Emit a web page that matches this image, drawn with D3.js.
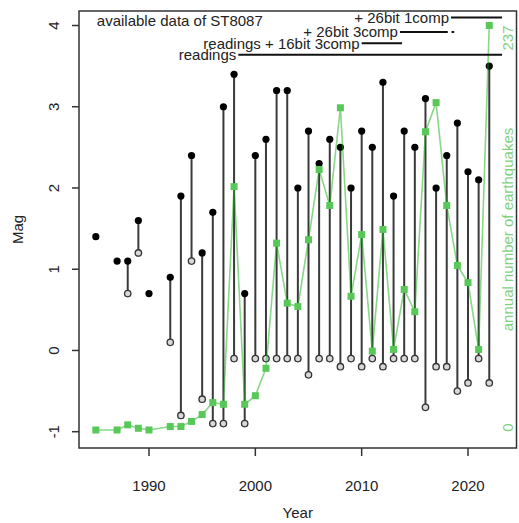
<!DOCTYPE html>
<html>
<head>
<meta charset="utf-8">
<script src="https://cdn.jsdelivr.net/npm/d3@7"></script>
<style>
  body { margin: 0; background: #fff; }
  svg text { font-family: "Liberation Sans", Arial, sans-serif; }
</style>
</head>
<body>
<div id="chart"></div>
<script>
/**
 * DATA
 * */
const years = [1985, 1987, 1988, 1989, 1990, 1992, 1993, 1994, 1995, 1996, 1997, 1998,
  1999, 2000, 2001, 2002, 2003, 2004, 2005, 2006, 2007, 2008, 2009, 2010, 2011, 2012,
  2013, 2014, 2015, 2016, 2017, 2018, 2019, 2020, 2021, 2022];
// largest magnitude of the year (filled dots)
const magMax = [1.4, 1.1, 1.1, 1.6, 0.7, 0.9, 1.9, 2.4, 1.2, 1.7, 3.0, 3.4,
  0.7, 2.4, 2.6, 3.2, 3.2, 2.0, 2.7, 2.3, 2.6, 2.5, 2.0, 2.7, 2.5, 3.3,
  1.9, 2.7, 2.5, 3.1, 2.0, 2.4, 2.8, 2.2, 2.1, 3.5];
// smallest magnitude of the year (open circles), null = only one event
const magMin = [null, null, 0.7, 1.2, null, 0.1, -0.8, 1.1, -0.6, -0.9, -0.9, -0.1,
  -0.9, -0.1, -0.1, -0.1, -0.1, -0.1, -0.3, -0.1, -0.1, -0.2, -0.1, -0.2, -0.1, -0.2,
  -0.1, -0.1, -0.1, -0.7, -0.2, -0.2, -0.5, -0.4, -0.1, -0.4];
// annual number of earthquakes
const counts = [1, 1, 4, 2, 1, 3, 3, 6, 10, 17, 16, 143,
  16, 21, 37, 110, 75, 73, 112, 153, 132, 189, 79, 115, 47, 118,
  48, 83, 70, 175, 192, 132, 97, 87, 48, 237];

const magTicks = [-1, 0, 1, 2, 3, 4];
const yearTicks = [1990, 2000, 2010, 2020];

// periods of available data (start / end year)
const periodLabels = ["readings", "readings + 16bit 3comp", "+ 26bit 3comp", "+ 26bit 1comp"];
const periodStart = [1998.4, 2010.0, 2013.6, 2018.4];
const periodEnd = [2023.2, 2013.8, 2018.1, 2023.2];
const periodRow = [3.64, 3.78, 3.92, 4.10]; // y level (Mag units) of each row

/**
 * CONSTANTS
 * */
const width = 519, height = 523;
const box = { left: 79, right: 516.5, top: 11, bottom: 448 };
const fontSize = 15;

const svg = d3.select("#chart").append("svg")
  .attr("width", width)
  .attr("height", height);

const x = d3.scaleLinear().domain([1990, 2020]).range([149, 468]);
const y = d3.scaleLinear().domain([-1, 4]).range([431.7, 25.5]);
const yCount = d3.scaleLinear().domain([0, d3.max(counts)]).range([431.7, 25.5]);

const data = years.map((yr, i) => ({ year: yr, max: magMax[i], min: magMin[i], n: counts[i] }));

// stems
svg.append("g")
  .selectAll("line")
  .data(data.filter(d => d.min !== null))
  .join("line")
    .attr("x1", d => x(d.year)).attr("x2", d => x(d.year))
    .attr("y1", d => y(d.max)).attr("y2", d => y(d.min))
    .attr("stroke", "#3a3a3a")
    .attr("stroke-width", 2);

// open circles (min)
svg.append("g")
  .selectAll("circle")
  .data(data.filter(d => d.min !== null))
  .join("circle")
    .attr("cx", d => x(d.year))
    .attr("cy", d => y(d.min))
    .attr("r", 3.2)
    .attr("fill", "#d8d8d8")
    .attr("stroke", "#333")
    .attr("stroke-width", 1.3);

// filled dots (max)
svg.append("g")
  .selectAll("circle")
  .data(data)
  .join("circle")
    .attr("cx", d => x(d.year))
    .attr("cy", d => y(d.max))
    .attr("r", 3.6)
    .attr("fill", "#000");

// annual count line + squares
svg.append("path")
  .datum(data)
  .attr("fill", "none")
  .attr("stroke", "rgb(20,175,20)")
  .attr("stroke-opacity", 0.5)
  .attr("stroke-width", 1.6)
  .attr("d", d3.line().x(d => x(d.year)).y(d => yCount(d.n)));

svg.append("g")
  .selectAll("rect")
  .data(data)
  .join("rect")
    .attr("x", d => x(d.year) - 3.5)
    .attr("y", d => yCount(d.n) - 3.5)
    .attr("width", 7)
    .attr("height", 7)
    .attr("fill", "#58c858");

// data availability rows
const periods = periodLabels.map((l, i) => ({ label: l, start: periodStart[i], end: periodEnd[i], row: periodRow[i] }));
const pg = svg.append("g");
pg.selectAll("line")
  .data(periods)
  .join("line")
    .attr("x1", d => x(d.start)).attr("x2", d => x(d.end))
    .attr("y1", d => y(d.row)).attr("y2", d => y(d.row))
    .attr("stroke", "#111")
    .attr("stroke-width", 2);
// single extra point after the 26bit 3comp line
pg.append("line")
  .attr("x1", x(2018.45)).attr("x2", x(2018.7))
  .attr("y1", y(periodRow[2])).attr("y2", y(periodRow[2]))
  .attr("stroke", "#111").attr("stroke-width", 2);
pg.selectAll("text")
  .data(periods)
  .join("text")
    .attr("x", d => x(d.start) - 2)
    .attr("y", d => y(d.row) + 5.4)
    .attr("text-anchor", "end")
    .attr("font-size", fontSize)
    .attr("fill", "#222")
    .text(d => d.label);

svg.append("text")
  .attr("x", x(1985) + 1)
  .attr("y", 26)
  .attr("font-size", fontSize)
  .attr("fill", "#222")
  .text("available data of ST8087");

// box
svg.append("rect")
  .attr("x", box.left).attr("y", box.top)
  .attr("width", box.right - box.left).attr("height", box.bottom - box.top)
  .attr("fill", "none")
  .attr("stroke", "#333")
  .attr("stroke-width", 1.5);

// left axis
const yAxis = svg.append("g");
yAxis.selectAll("line")
  .data(magTicks)
  .join("line")
    .attr("x1", box.left - 7).attr("x2", box.left)
    .attr("y1", d => y(d)).attr("y2", d => y(d))
    .attr("stroke", "#333").attr("stroke-width", 1.5);
yAxis.selectAll("text")
  .data(magTicks)
  .join("text")
    .attr("transform", d => `translate(59,${y(d)}) rotate(-90)`)
    .attr("text-anchor", "middle")
    .attr("font-size", fontSize)
    .attr("fill", "#222")
    .text(d => d);

// bottom axis
const xAxis = svg.append("g");
xAxis.selectAll("line")
  .data(yearTicks)
  .join("line")
    .attr("x1", d => x(d)).attr("x2", d => x(d))
    .attr("y1", box.bottom).attr("y2", box.bottom + 8)
    .attr("stroke", "#333").attr("stroke-width", 1.5);
xAxis.selectAll("text")
  .data(yearTicks)
  .join("text")
    .attr("x", d => x(d))
    .attr("y", 490.5)
    .attr("text-anchor", "middle")
    .attr("font-size", fontSize)
    .attr("fill", "#222")
    .text(d => d);

// axis titles
svg.append("text")
  .attr("x", (box.left + box.right) / 2)
  .attr("y", 518)
  .attr("text-anchor", "middle")
  .attr("font-size", fontSize)
  .attr("fill", "#222")
  .text("Year");

svg.append("text")
  .attr("transform", `translate(23,${(box.top + box.bottom) / 2}) rotate(-90)`)
  .attr("text-anchor", "middle")
  .attr("font-size", fontSize)
  .attr("fill", "#222")
  .text("Mag");

// right side labels for the count scale
const green = "#7fd27f";
svg.append("text")
  .attr("transform", `translate(513,${yCount(0)}) rotate(-90)`)
  .attr("text-anchor", "start")
  .attr("font-size", fontSize)
  .attr("fill", green)
  .text("0");
svg.append("text")
  .attr("transform", `translate(513,${yCount(d3.max(counts))}) rotate(-90)`)
  .attr("text-anchor", "end")
  .attr("font-size", fontSize)
  .attr("fill", green)
  .text(d3.max(counts));
svg.append("text")
  .attr("transform", `translate(513,${(box.top + box.bottom) / 2}) rotate(-90)`)
  .attr("text-anchor", "middle")
  .attr("font-size", fontSize)
  .attr("fill", green)
  .text("annual number of earthquakes");
</script>
</body>
</html>
